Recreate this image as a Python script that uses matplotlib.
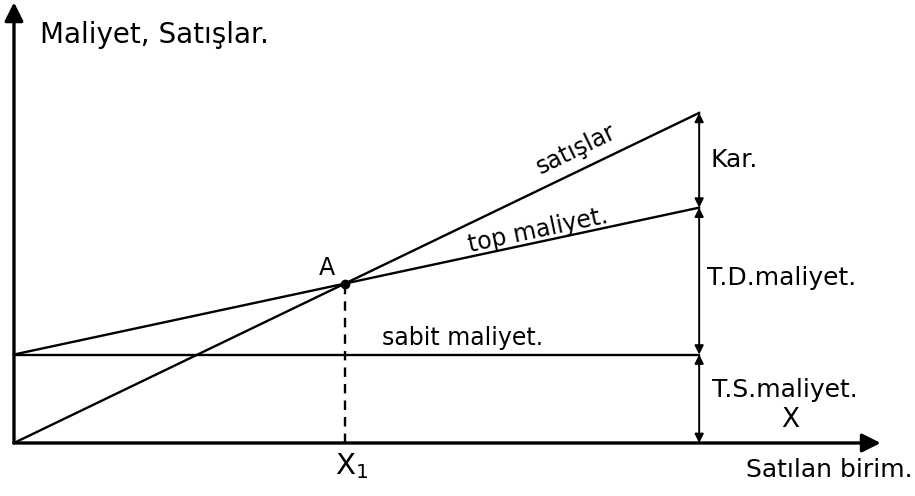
import numpy as np
import matplotlib.pyplot as plt

# veriler (birim: grafik birimi)
x_max = 10.0            # satilan birim (grafik sonu)
sabit_maliyet = 26.8    # T.S. maliyet
satis_fiyati = 10.0     # birim satis
degisken_maliyet = 4.45 # birim degisken maliyet

x = np.array([0.0, x_max])
satislar = satis_fiyati * x
top_maliyet = sabit_maliyet + degisken_maliyet * x
sabit = np.array([sabit_maliyet, sabit_maliyet])

# basabas noktasi A
x1 = sabit_maliyet / (satis_fiyati - degisken_maliyet)
y1 = satis_fiyati * x1

fig = plt.figure(figsize=(9.15, 4.96), dpi=100)
ax = fig.add_axes([0, 0, 1, 1])
ax.set_xlim(-0.204, 13.15)
ax.set_ylim(-16.06, 134.2)
ax.axis('off')

# eksenler
ax.annotate('', xy=(12.65, 0), xytext=(0, 0),
            arrowprops=dict(arrowstyle='-|>', lw=2.4, color='black',
                            mutation_scale=28, shrinkA=0, shrinkB=0))
ax.annotate('', xy=(0, 133.5), xytext=(0, 0),
            arrowprops=dict(arrowstyle='-|>', lw=2.4, color='black',
                            mutation_scale=28, shrinkA=0, shrinkB=0))

# dogrular
ax.plot(x, satislar, color='black', lw=1.7)
ax.plot(x, top_maliyet, color='black', lw=1.7)
ax.plot(x, sabit, color='black', lw=1.7)
ax.plot([x1, x1], [0, y1], color='black', lw=1.7, ls=(0, (4, 3)))
ax.plot([x1], [y1], 'o', color='black', ms=6)

# dikey oklar
def cift_ok(y_alt, y_ust):
    ax.annotate('', xy=(x_max, y_ust), xytext=(x_max, y_alt),
                arrowprops=dict(arrowstyle='<|-|>', lw=1.4, color='black',
                                mutation_scale=13, shrinkA=0, shrinkB=0))

cift_ok(top_maliyet[1], satislar[1])
cift_ok(sabit_maliyet, top_maliyet[1])
cift_ok(0, sabit_maliyet)

fs = 18
ax.text(0.38, 123.6, 'Maliyet, Satışlar.', fontsize=20, va='center', ha='left')
ax.text(13.12, -8.2, 'Satılan birim.', fontsize=fs, va='center', ha='right')
ax.text(4.93, -7.0, 'X$_1$', fontsize=21, va='center', ha='center')
ax.text(4.57, 53, 'A', fontsize=17, va='center', ha='center')
ax.text(8.2, 89.0, 'satışlar', fontsize=17, rotation=26, va='center', ha='center')
ax.text(7.65, 64.5, 'top maliyet.', fontsize=17, rotation=12, va='center', ha='center')
ax.text(6.54, 31.8, 'sabit maliyet.', fontsize=17, va='center', ha='center')
ax.text(10.16, 85.8, 'Kar.', fontsize=fs, va='center', ha='left')
ax.text(10.12, 50, 'T.D.maliyet.', fontsize=fs, va='center', ha='left')
ax.text(10.19, 16, 'T.S.maliyet.', fontsize=fs, va='center', ha='left')
ax.text(11.33, 7, 'X', fontsize=19, va='center', ha='center')

plt.savefig('out.png', dpi=100)
